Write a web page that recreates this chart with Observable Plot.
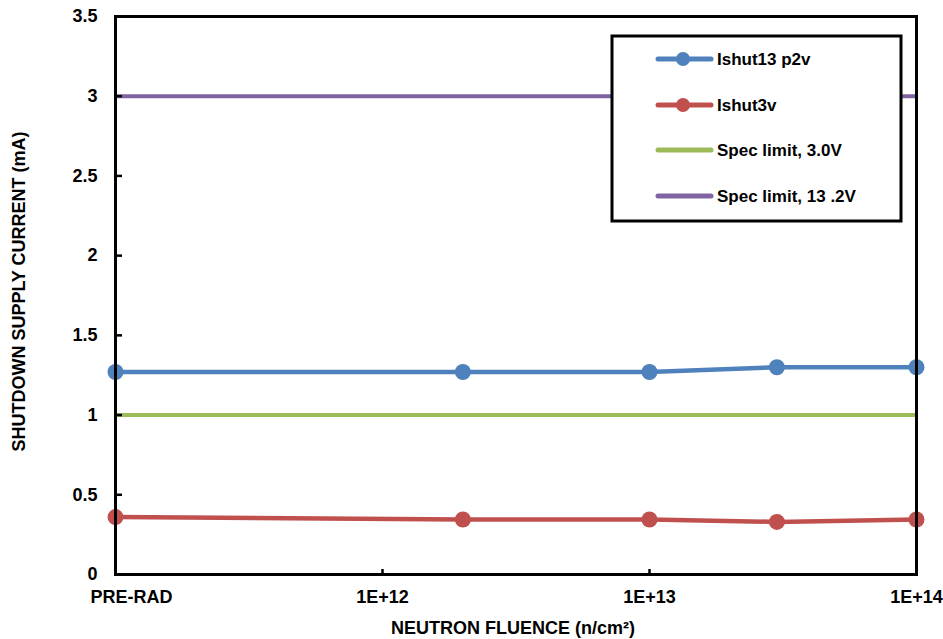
<!DOCTYPE html>
<html>
<head>
<meta charset="utf-8">
<script src="https://cdn.jsdelivr.net/npm/d3@7"></script>
<script src="https://cdn.jsdelivr.net/npm/@observablehq/plot@0.6"></script>
<style>
  html, body { margin: 0; padding: 0; background: #fff; }
  #chart { position: relative; width: 943px; height: 639px; }
</style>
</head>
<body>
<div id="chart"></div>
<script>
// Data
const fluence = [1e11, 2e12, 1e13, 3e13, 1e14];
const ishut13p2v = [1.27, 1.27, 1.27, 1.30, 1.30];
const ishut3v = [0.36, 0.345, 0.345, 0.33, 0.345];
const specLimit3V = 1.0;
const specLimit13V = 3.0;
const xTicks = [1e11, 1e12, 1e13, 1e14];
const xTickLabels = ["PRE-RAD", "1E+12", "1E+13", "1E+14"];
const yTicks = [0, 0.5, 1, 1.5, 2, 2.5, 3, 3.5];
const seriesNames = ["Ishut13 p2v", "Ishut3v", "Spec limit, 3.0V", "Spec limit, 13 .2V"];

const colors = {blue: "#4F81BD", red: "#C0504D", green: "#9BBB59", purple: "#8064A2"};

const blueData = fluence.map((x, i) => ({x, y: ishut13p2v[i]}));
const redData = fluence.map((x, i) => ({x, y: ishut3v[i]}));

const font = "'Liberation Sans', Arial, sans-serif";
const W = 943, H = 639, ML = 115, MR = 27, MT = 16, MB = 65;
const xLabel = d => xTickLabels[xTicks.indexOf(d)];

const plot = Plot.plot({
  width: W,
  height: H,
  marginLeft: ML,
  marginRight: MR,
  marginTop: MT,
  marginBottom: MB,
  style: {fontFamily: font, fontWeight: "bold", fontSize: "18px", color: "#000", background: "#fff"},
  x: {type: "log", domain: [1e11, 1e14]},
  y: {domain: [0, 3.5]},
  marks: [
    Plot.ruleY([specLimit13V], {stroke: colors.purple, strokeWidth: 4}),
    Plot.ruleY([specLimit3V], {stroke: colors.green, strokeWidth: 4}),
    Plot.line(blueData, {x: "x", y: "y", stroke: colors.blue, strokeWidth: 4.5}),
    Plot.dot(blueData, {x: "x", y: "y", r: 8, fill: colors.blue}),
    Plot.line(redData, {x: "x", y: "y", stroke: colors.red, strokeWidth: 4.5}),
    Plot.dot(redData, {x: "x", y: "y", r: 8, fill: colors.red}),
    Plot.frame({stroke: "#000", strokeWidth: 3}),
    // tick labels
    Plot.axisY(yTicks, {anchor: "left", tickSize: 0, tickPadding: 18, tickFormat: d => String(d), label: null, fontSize: 18}),
    Plot.axisX(xTicks.slice(0, 1), {anchor: "bottom", tickSize: 0, tickPadding: 16, dx: 16, tickFormat: xLabel, label: null, fontSize: 18}),
    Plot.axisX(xTicks.slice(1), {anchor: "bottom", tickSize: 0, tickPadding: 16, tickFormat: xLabel, label: null, fontSize: 18}),
    // inward tick marks (drawn from the opposite anchor, shifted onto the left / bottom frame edge)
    Plot.axisY(yTicks.slice(1, -1), {anchor: "right", dx: -(W - ML - MR), tickSize: 6, tickFormat: () => "", label: null, strokeWidth: 2.5}),
    Plot.axisX(xTicks.slice(1, -1), {anchor: "top", dy: (H - MT - MB), tickSize: 6, tickFormat: () => "", label: null, strokeWidth: 2.5}),
    // axis titles
    Plot.text(["NEUTRON FLUENCE (n/cm²)"], {frameAnchor: "bottom", dy: 54, dx: -3, lineAnchor: "middle", textAnchor: "middle", fontSize: 18, fontWeight: "bold"}),
    Plot.text(["SHUTDOWN SUPPLY CURRENT (mA)"], {frameAnchor: "left", dx: -96, dy: -4, rotate: -90, textAnchor: "middle", lineAnchor: "middle", fontSize: 18, fontWeight: "bold"})
  ]
});

document.getElementById("chart").appendChild(plot);

// Legend box (drawn on top of the plot SVG)
const svg = d3.select(plot);
const lg = svg.append("g").attr("font-family", font).attr("font-weight", "bold").attr("font-size", 17).attr("text-anchor", "start");
lg.append("rect").attr("x", 612).attr("y", 36).attr("width", 289).attr("height", 185)
  .attr("fill", "#fff").attr("stroke", "#000").attr("stroke-width", 3);
const entries = [
  {name: seriesNames[0], color: colors.blue, marker: true},
  {name: seriesNames[1], color: colors.red, marker: true},
  {name: seriesNames[2], color: colors.green, marker: false},
  {name: seriesNames[3], color: colors.purple, marker: false}
];
const rowY = [59, 105, 150, 196];
entries.forEach((e, i) => {
  const g = lg.append("g").attr("transform", `translate(0,${rowY[i]})`);
  g.append("line").attr("x1", 658).attr("x2", 711).attr("y1", 0).attr("y2", 0)
    .attr("stroke", e.color).attr("stroke-width", 5).attr("stroke-linecap", "round");
  if (e.marker) g.append("circle").attr("cx", 683).attr("cy", 0).attr("r", 7).attr("fill", e.color);
  g.append("text").attr("x", 717).attr("y", 0).attr("dy", "0.35em").attr("text-anchor", "start").text(e.name);
});
</script>
</body>
</html>
